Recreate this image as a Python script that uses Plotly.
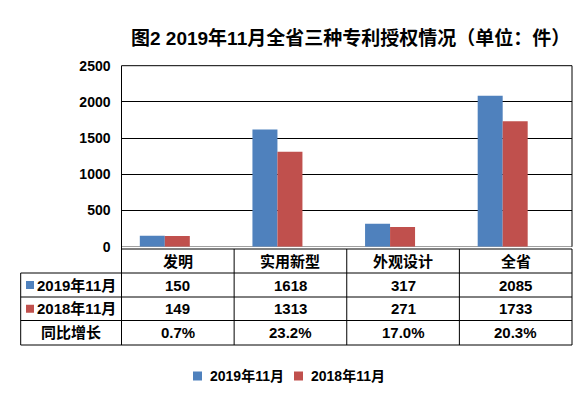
import plotly.graph_objects as go

categories = ["发明", "实用新型", "外观设计", "全省"]
series_names = ["2019年11月", "2018年11月"]
values_2019 = [150, 1618, 317, 2085]
values_2018 = [149, 1313, 271, 1733]
growth_label = "同比增长"
growth = ["0.7%", "23.2%", "17.0%", "20.3%"]
y_ticks = [0, 500, 1000, 1500, 2000, 2500]
title_text = "图2 2019年11月全省三种专利授权情况（单位：件）"

W, H = 586, 394
BLUE = "#4F81BD"
RED = "#C0504D"
FONT = "Liberation Sans, Arial, Noto Sans CJK SC"


def px(x):
    return x / W


def py(y):
    return 1 - y / H


plot_l, plot_r = 121.5, 572.0
plot_t, plot_b = 65.7, 246.7
table_l = 20.7
row_lines = [249, 273, 297, 320.5, 345]
n = len(categories)
col_w = (plot_r - plot_l) / n

bar_w = 25 / col_w
off_blue = -38 / col_w
off_red = off_blue + bar_w

fig = go.Figure()
fig.add_trace(go.Bar(
    x=list(range(n)), y=values_2019, name=series_names[0],
    marker=dict(color=BLUE, line=dict(width=0)),
    width=bar_w, offset=off_blue,
))
fig.add_trace(go.Bar(
    x=list(range(n)), y=values_2018, name=series_names[1],
    marker=dict(color=RED, line=dict(width=0)),
    width=bar_w, offset=off_red,
))

shapes = []
line = dict(color="black", width=1)
# plot border top/right
shapes.append(dict(type="line", xref="paper", yref="paper", x0=px(plot_l), x1=px(plot_r),
                   y0=py(plot_t), y1=py(plot_t), line=line))
shapes.append(dict(type="line", xref="paper", yref="paper", x0=px(plot_r), x1=px(plot_r),
                   y0=py(plot_t), y1=py(plot_b), line=line))
# left axis extended through table
shapes.append(dict(type="line", xref="paper", yref="paper", x0=px(plot_l), x1=px(plot_l),
                   y0=py(plot_t), y1=py(row_lines[-1]), line=line))
# table horizontals
for i, ry in enumerate(row_lines):
    x0 = plot_l if i == 0 else table_l
    shapes.append(dict(type="line", xref="paper", yref="paper", x0=px(x0), x1=px(plot_r),
                       y0=py(ry), y1=py(ry), line=line))
# table verticals
shapes.append(dict(type="line", xref="paper", yref="paper", x0=px(table_l), x1=px(table_l),
                   y0=py(row_lines[1]), y1=py(row_lines[-1]), line=line))
for k in range(1, n + 1):
    xx = plot_l + k * col_w
    shapes.append(dict(type="line", xref="paper", yref="paper", x0=px(xx), x1=px(xx),
                       y0=py(row_lines[0]), y1=py(row_lines[-1]), line=line))
# legend keys in table
for i, c in enumerate([BLUE, RED]):
    cy = (row_lines[i + 1] + row_lines[i + 2]) / 2
    shapes.append(dict(type="rect", xref="paper", yref="paper", x0=px(26), x1=px(34),
                       y0=py(cy + 4), y1=py(cy - 4), fillcolor=c, line=dict(width=0)))

annotations = []
tf = dict(family=FONT, size=15, color="black", weight="bold")
row_centers = [(row_lines[i] + row_lines[i + 1]) / 2 for i in range(4)]
for j, cat in enumerate(categories):
    cx = plot_l + (j + 0.5) * col_w
    annotations.append(dict(x=px(cx), y=py(row_centers[0]), xref="paper", yref="paper",
                            text=cat, showarrow=False, font=tf, xanchor="center", yanchor="middle"))
    annotations.append(dict(x=px(cx), y=py(row_centers[1]), xref="paper", yref="paper",
                            text=str(values_2019[j]), showarrow=False, font=tf,
                            xanchor="center", yanchor="middle"))
    annotations.append(dict(x=px(cx), y=py(row_centers[2]), xref="paper", yref="paper",
                            text=str(values_2018[j]), showarrow=False, font=tf,
                            xanchor="center", yanchor="middle"))
    annotations.append(dict(x=px(cx), y=py(row_centers[3]), xref="paper", yref="paper",
                            text=growth[j], showarrow=False, font=tf,
                            xanchor="center", yanchor="middle"))
for i, nm in enumerate(series_names):
    annotations.append(dict(x=px(35), y=py(row_centers[i + 1]), xref="paper", yref="paper",
                            text=nm, showarrow=False, font=tf, xanchor="left", yanchor="middle"))
annotations.append(dict(x=px((table_l + plot_l) / 2), y=py(row_centers[3]), xref="paper", yref="paper",
                        text=growth_label, showarrow=False, font=tf, xanchor="center", yanchor="middle"))
annotations.append(dict(x=px(350), y=py(38), xref="paper", yref="paper", text=title_text,
                        showarrow=False, font=dict(family=FONT, size=19, color="black", weight="bold"),
                        xanchor="center", yanchor="middle"))

# bottom legend (drawn manually)
leg_y = 376
leg_items = [(193, series_names[0], BLUE), (294, series_names[1], RED)]
lf = dict(family=FONT, size=14, color="black", weight="bold")
for lx, nm, c in leg_items:
    shapes.append(dict(type="rect", xref="paper", yref="paper", x0=px(lx), x1=px(lx + 9),
                       y0=py(leg_y + 4.5), y1=py(leg_y - 4.5), fillcolor=c, line=dict(width=0)))
    annotations.append(dict(x=px(lx + 15), y=py(leg_y), xref="paper", yref="paper", text=nm,
                            showarrow=False, font=lf, xanchor="left", yanchor="middle"))

fig.update_layout(
    width=W, height=H,
    margin=dict(l=0, r=0, t=0, b=0, pad=0, autoexpand=False),
    paper_bgcolor="white", plot_bgcolor="white",
    barmode="overlay",
    showlegend=False,
    xaxis=dict(domain=[px(plot_l), px(plot_r)], range=[-0.5, n - 0.5], automargin=False,
               showticklabels=False, showgrid=False, zeroline=False, showline=False, ticks=""),
    yaxis=dict(domain=[py(plot_b), py(plot_t)], range=[0, 2500], tickvals=y_ticks, automargin=False,
               showgrid=True, gridcolor="black", gridwidth=1,
               zeroline=True, zerolinecolor="#A0A0A0", zerolinewidth=1,
               showline=False, ticks="", ticklabelstandoff=10,
               tickfont=dict(family=FONT, size=14, color="black", weight="bold")),
    shapes=shapes,
    annotations=annotations,
)

fig.write_html(
    "out.html",
    config={"displayModeBar": False},
    post_script="document.body.style.margin='0';document.body.style.overflow='hidden';",
)
